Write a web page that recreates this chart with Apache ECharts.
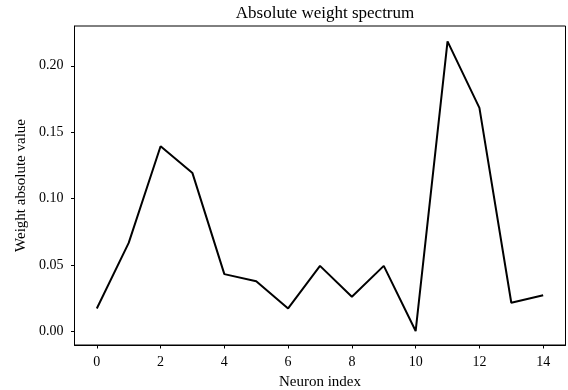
<!DOCTYPE html>
<html><head><meta charset="utf-8">
<script src="https://cdn.jsdelivr.net/npm/echarts@6/dist/echarts.min.js"></script>
<style>html,body{margin:0;padding:0;background:#fff}#c{width:568px;height:390px}</style>
</head><body><div id="c"></div>
<script>
const neuronIndex = [0,1,2,3,4,5,6,7,8,9,10,11,12,13,14];
const weightAbs = [0.0175,0.0668,0.1395,0.1193,0.0433,0.0380,0.0175,0.0495,0.0263,0.0495,0.0005,0.2183,0.1683,0.0218,0.0275];
const xTicks = [0,2,4,6,8,10,12,14];
const yTicks = [0,0.05,0.10,0.15,0.20];
const font = 'Liberation Serif';
const chart = echarts.init(document.getElementById('c'));
chart.setOption({
  animation:false,
  title:{text:'Absolute weight spectrum',left:320,top:0,textAlign:'center',textStyle:{fontFamily:font,fontSize:17,fontWeight:'normal',color:'#000'}},
  grid:{left:74.5,top:26,right:2.5,bottom:45,outerBoundsMode:'none',containLabel:false,show:true,borderColor:'#000',borderWidth:1,backgroundColor:'transparent'},
  xAxis:{type:'value',min:-0.7,max:14.7,
    name:'Neuron index',nameLocation:'middle',nameGap:30,nameTextStyle:{fontFamily:font,fontSize:15,color:'#000'},
    axisLine:{onZero:false,lineStyle:{color:'#000',width:1}},
    axisTick:{show:true,customValues:xTicks,length:3.5,lineStyle:{color:'#000'}},
    axisLabel:{customValues:xTicks,fontFamily:font,fontSize:14,color:'#000',margin:10},
    splitLine:{show:false}},
  yAxis:{type:'value',min:-0.00998,max:0.2299,
    name:'Weight absolute value',nameLocation:'middle',nameGap:43,nameTextStyle:{fontFamily:font,fontSize:15,color:'#000'},
    axisLine:{show:true,onZero:false,lineStyle:{color:'#000',width:1}},
    axisTick:{show:true,customValues:yTicks,length:3.5,lineStyle:{color:'#000'}},
    axisLabel:{customValues:yTicks,fontFamily:font,fontSize:14,color:'#000',margin:11,formatter:v=>v.toFixed(2)},
    splitLine:{show:false}},
  series:[{type:'line',data:neuronIndex.map((x,i)=>[x,weightAbs[i]]),showSymbol:false,lineStyle:{color:'#000',width:2},itemStyle:{color:'#000'}}]
});
</script></body></html>
